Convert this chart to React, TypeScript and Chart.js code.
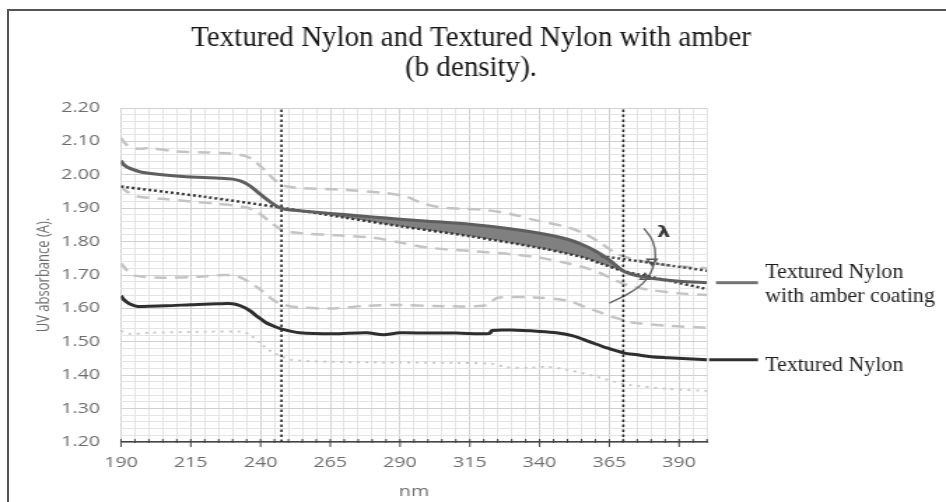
import React, { useEffect, useRef } from 'react';
import { Chart, registerables } from 'chart.js';

Chart.register(...registerables);

// ---------------- data ----------------
const TITLE_LINES = ['Textured Nylon and Textured Nylon with amber', '(b density).'];
const X_TITLE = 'nm';
const Y_TITLE = 'UV absorbance (A).';
const LABEL_AMBER = ['Textured Nylon', 'with amber coating'];
const LABEL_NYLON = ['Textured Nylon'];
const LAMBDA_TEXT = 'λ';

const X_MIN = 190;
const X_MAX = 400;
const Y_MIN = 1.2;
const Y_MAX = 2.2;
const X_MAJOR_TICKS = [190, 215, 240, 265, 290, 315, 340, 365, 390];
const X_MINOR_STEP = 5;
const Y_MAJOR_TICKS = [1.2, 1.3, 1.4, 1.5, 1.6, 1.7, 1.8, 1.9, 2.0, 2.1, 2.2];
const Y_MINOR_STEP = 0.02;

// Textured Nylon with amber coating (mean)
const AMBER_NM = [190, 191, 193, 198, 212, 225, 230, 233, 236, 239, 242, 245, 248, 252, 260, 270, 280, 290, 300, 315, 330, 340, 350, 355, 360, 365, 370, 375, 380, 390, 400];
const AMBER_ABS = [2.042, 2.03, 2.02, 2.007, 1.995, 1.99, 1.987, 1.981, 1.968, 1.948, 1.928, 1.91, 1.898, 1.894, 1.888, 1.881, 1.874, 1.867, 1.861, 1.852, 1.838, 1.825, 1.807, 1.792, 1.772, 1.745, 1.712, 1.698, 1.69, 1.681, 1.677];
// amber upper / lower bands
const AMBER_UP_NM = [190, 192, 196, 200, 210, 220, 230, 235, 238, 242, 245, 248, 255, 270, 285, 292, 298, 305, 320, 330, 338, 350, 357, 362, 368, 375, 385, 400];
const AMBER_UP_ABS = [2.11, 2.09, 2.078, 2.08, 2.07, 2.067, 2.063, 2.055, 2.04, 2.01, 1.985, 1.968, 1.96, 1.955, 1.945, 1.935, 1.915, 1.902, 1.895, 1.882, 1.865, 1.843, 1.82, 1.795, 1.762, 1.745, 1.73, 1.72];
const AMBER_LO_NM = [190, 192, 196, 205, 215, 225, 235, 239, 243, 248, 255, 265, 280, 290, 300, 315, 330, 340, 350, 357, 362, 367, 372, 380, 390, 400];
const AMBER_LO_ABS = [1.965, 1.95, 1.935, 1.928, 1.92, 1.913, 1.902, 1.888, 1.862, 1.834, 1.825, 1.82, 1.812, 1.797, 1.782, 1.772, 1.762, 1.752, 1.735, 1.72, 1.705, 1.685, 1.668, 1.655, 1.645, 1.64];
// dotted trend line under the amber curve
const TREND_NM = [190, 220, 247, 270, 290, 315, 340, 355, 362, 370, 385, 400];
const TREND_ABS = [1.965, 1.934, 1.902, 1.872, 1.846, 1.816, 1.781, 1.754, 1.734, 1.712, 1.685, 1.658];
// dotted tangent line at the right
const TANGENT_NM = [362, 400];
const TANGENT_ABS = [1.757, 1.713];
// shaded region limits
const SHADE_FROM_NM = 247.5;
const SHADE_TO_NM = 370;

// Textured Nylon (mean)
const NYLON_NM = [190, 191, 193, 196, 206, 215, 225, 230, 233, 236, 239, 242, 245, 248, 254, 266, 278, 284, 290, 300, 310, 322, 323, 330, 340, 346, 352, 358, 364, 370, 375, 380, 386, 393, 400];
const NYLON_ABS = [1.638, 1.626, 1.614, 1.606, 1.608, 1.611, 1.614, 1.614, 1.607, 1.594, 1.575, 1.557, 1.546, 1.537, 1.527, 1.524, 1.527, 1.521, 1.527, 1.526, 1.526, 1.525, 1.534, 1.535, 1.531, 1.527, 1.518, 1.5, 1.482, 1.467, 1.461, 1.455, 1.452, 1.449, 1.446];
const NYLON_UP_NM = [190, 192, 195, 205, 218, 228, 233, 239, 243, 247, 254, 266, 278, 290, 302, 320, 323, 325, 338, 350, 356, 362, 368, 374, 386, 400];
const NYLON_UP_ABS = [1.735, 1.715, 1.698, 1.692, 1.695, 1.7, 1.692, 1.662, 1.635, 1.614, 1.603, 1.6, 1.608, 1.61, 1.607, 1.608, 1.622, 1.632, 1.633, 1.623, 1.605, 1.587, 1.57, 1.557, 1.548, 1.542];
const NYLON_LO_NM = [190, 193, 200, 220, 233, 236, 240, 244, 247, 251, 266, 290, 310, 323, 328, 336, 343, 350, 356, 362, 368, 372, 386, 400];
const NYLON_LO_ABS = [1.533, 1.524, 1.527, 1.53, 1.53, 1.522, 1.495, 1.47, 1.458, 1.446, 1.44, 1.438, 1.437, 1.434, 1.424, 1.422, 1.425, 1.416, 1.405, 1.392, 1.378, 1.371, 1.359, 1.353];

// vertical dotted markers
const V_MARKERS_NM = [247.5, 370];

// angle annotation (arc, arrowheads, lambda)
const ARC_NM = [377.4, 380.6, 381.5, 380, 377, 372, 365];
const ARC_ABS = [1.84, 1.8, 1.755, 1.71, 1.675, 1.645, 1.616];
const ARROW_NM = [380.3, 377.8];
const ARROW_ABS = [1.741, 1.693];
const ARROW_ROT = [180, 0];
const LAMBDA_NM = 384.5;
const LAMBDA_ABS = 1.825;

// ---------------- layout ----------------
const PAGE_W = 946;
const PAGE_H = 502;
const CANVAS_W = 676;
const SX = PAGE_W / CANVAS_W;

const pts = (xs: number[], ys: number[]) => xs.map((x, i) => ({ x, y: ys[i] }));

const xTickValues: number[] = [];
for (let v = X_MIN; v <= X_MAX; v += X_MINOR_STEP) xTickValues.push(v);
const yTickValues: number[] = [];
for (let i = 0; i <= Math.round((Y_MAX - Y_MIN) / Y_MINOR_STEP); i++) yTickValues.push(+(Y_MIN + i * Y_MINOR_STEP).toFixed(2));
const isYMajor = (v: number) => Y_MAJOR_TICKS.some((m) => Math.abs(m - v) < 1e-6);

const overlayPlugin = {
  id: 'overlay',
  afterDatasetsDraw(chart: any) {
    const { ctx, scales } = chart;
    const xs = scales.x;
    const ys = scales.y;
    ctx.save();
    ctx.fillStyle = '#3a3a3a';
    ctx.font = 'bold 15px "DejaVu Sans"';
    ctx.textAlign = 'center';
    ctx.textBaseline = 'middle';
    ctx.fillText(LAMBDA_TEXT, xs.getPixelForValue(LAMBDA_NM), ys.getPixelForValue(LAMBDA_ABS));
    ctx.restore();
  },
  afterDraw(chart: any) {
    const { ctx, chartArea, scales } = chart;
    const xs = scales.x;
    const ys = scales.y;
    // x tick marks
    ctx.save();
    ctx.strokeStyle = '#444';
    ctx.lineWidth = 1;
    for (const t of xs.ticks) {
      const px = xs.getPixelForValue(t.value);
      const major = X_MAJOR_TICKS.includes(t.value);
      ctx.beginPath();
      ctx.moveTo(px, chartArea.bottom - 3);
      ctx.lineTo(px, chartArea.bottom + (major ? 5 : 1));
      ctx.stroke();
    }
    ctx.restore();

    // right-side labels with leader lines
    const labels = [
      { lines: LABEL_AMBER, value: AMBER_ABS[AMBER_ABS.length - 1], color: '#737373', start: 9, dy: -10 },
      { lines: LABEL_NYLON, value: NYLON_ABS[NYLON_ABS.length - 1], color: '#303030', start: 2, dy: 5 },
    ];
    for (const lb of labels) {
      const py = ys.getPixelForValue(lb.value);
      ctx.save();
      ctx.strokeStyle = lb.color;
      ctx.lineWidth = 3;
      ctx.beginPath();
      ctx.moveTo(chartArea.right + lb.start / SX, py);
      ctx.lineTo(chartArea.right + 51 / SX, py);
      ctx.stroke();
      ctx.restore();
      ctx.save();
      ctx.scale(1 / SX, 1);
      ctx.fillStyle = '#1e1e1e';
      ctx.font = '22px "Liberation Serif"';
      ctx.textAlign = 'left';
      ctx.textBaseline = 'middle';
      lb.lines.forEach((s, i) => {
        ctx.fillText(s, chartArea.right * SX + 58, py + lb.dy + i * 24);
      });
      ctx.restore();
    }

    // title (drawn unstretched)
    ctx.save();
    ctx.scale(1 / SX, 1);
    ctx.fillStyle = '#161616';
    ctx.font = '29px "Liberation Serif"';
    ctx.textAlign = 'center';
    ctx.textBaseline = 'middle';
    TITLE_LINES.forEach((s, i) => {
      ctx.fillText(s, (chart.width * SX) / 2 - 2, 38 + i * 30);
    });
    ctx.restore();
  },
};

export default function App() {
  const ref = useRef<HTMLCanvasElement | null>(null);

  useEffect(() => {
    if (!ref.current) return;
    const band = (data: any, color: string, dash: number[], width: number) => ({
      data,
      borderColor: color,
      borderWidth: width,
      borderDash: dash,
      pointRadius: 0,
      fill: false,
      tension: 0.3,
    });
    const shadeData = pts(AMBER_NM, AMBER_ABS).filter((p) => p.x >= SHADE_FROM_NM && p.x <= SHADE_TO_NM);

    const datasets: any[] = [
      // 0 amber mean
      { data: pts(AMBER_NM, AMBER_ABS), borderColor: '#5e5e5e', borderWidth: 3, pointRadius: 0, fill: false, tension: 0.3 },
      // 1 trend (dotted)
      { data: pts(TREND_NM, TREND_ABS), borderColor: '#333', borderWidth: 2.5, borderDash: [2, 2], pointRadius: 0, fill: false, tension: 0.3 },
      // 2 tangent (dotted)
      { data: pts(TANGENT_NM, TANGENT_ABS), borderColor: '#444', borderWidth: 2.5, borderDash: [2, 2], pointRadius: 0, fill: false },
      // 3 nylon mean
      { data: pts(NYLON_NM, NYLON_ABS), borderColor: '#2e2e2e', borderWidth: 3, pointRadius: 0, fill: false, tension: 0.3 },
      // 4,5 vertical markers
      ...V_MARKERS_NM.map((v) => ({
        data: [{ x: v, y: Y_MIN }, { x: v, y: Y_MAX }],
        borderColor: '#2a2a2a',
        borderWidth: 1.6,
        borderDash: [2.5, 2.5],
        pointRadius: 0,
        fill: false,
      })),
      // arc
      { data: pts(ARC_NM, ARC_ABS), borderColor: '#666', borderWidth: 1.4, pointRadius: 0, fill: false, tension: 0.45 },
      // arrowheads
      {
        data: pts(ARROW_NM, ARROW_ABS),
        showLine: false,
        pointStyle: 'triangle',
        pointRotation: ARROW_ROT,
        pointRadius: 4,
        pointBorderWidth: 1.4,
        pointBorderColor: '#555',
        pointBackgroundColor: 'rgba(0,0,0,0)',
      },
      // shaded region between amber mean and trend
      { data: shadeData, borderWidth: 0, borderColor: 'rgba(0,0,0,0)', pointRadius: 0, fill: 1, backgroundColor: '#808080', tension: 0.3 },
      // bands
      band(pts(AMBER_UP_NM, AMBER_UP_ABS), '#c4c4c4', [9, 6], 2.5),
      band(pts(AMBER_LO_NM, AMBER_LO_ABS), '#c4c4c4', [9, 6], 2.5),
      band(pts(NYLON_UP_NM, NYLON_UP_ABS), '#c4c4c4', [9, 6], 2.5),
      band(pts(NYLON_LO_NM, NYLON_LO_ABS), '#c8c8c8', [2, 4], 2),
    ];

    const chart = new Chart(ref.current, {
      type: 'line',
      data: { datasets },
      options: {
        animation: false,
        responsive: false,
        devicePixelRatio: 1,
        layout: { padding: { top: 108, right: CANVAS_W - 707 / SX, bottom: 0, left: 0 } },
        plugins: {
          legend: { display: false },
          tooltip: { enabled: false },
          title: { display: false },
        },
        elements: { line: { borderCapStyle: 'butt' } },
        scales: {
          x: {
            type: 'linear',
            min: X_MIN,
            max: X_MAX,
            afterBuildTicks: (scale: any) => {
              scale.ticks = xTickValues.map((value) => ({ value }));
            },
            afterFit: (scale: any) => {
              scale.height = PAGE_H - 442;
            },
            ticks: {
              autoSkip: false,
              maxRotation: 0,
              padding: 13,
              color: '#6c6c6c',
              font: { family: '"Open Sans"', size: 14 },
              callback: (v: any) => (X_MAJOR_TICKS.includes(v) ? String(v) : ''),
            },
            grid: {
              drawTicks: false,
              color: (c: any) => (X_MAJOR_TICKS.includes(c.tick?.value) ? '#d0d0d0' : '#e4e4e4'),
              lineWidth: 1,
            },
            border: { display: true, color: '#444', width: 1.5 },
            title: {
              display: true,
              text: X_TITLE,
              color: '#6c6c6c',
              font: { family: '"Open Sans"', size: 14 },
              padding: { top: 0, bottom: 2 },
            },
          },
          y: {
            type: 'linear',
            min: Y_MIN,
            max: Y_MAX,
            afterBuildTicks: (scale: any) => {
              scale.ticks = yTickValues.map((value) => ({ value }));
            },
            afterFit: (scale: any) => {
              scale.width = 121 / SX;
            },
            ticks: {
              autoSkip: false,
              padding: 15,
              color: '#6c6c6c',
              font: { family: '"Open Sans"', size: 14 },
              callback: (v: any) => (isYMajor(v) ? Number(v).toFixed(2) : ''),
            },
            grid: {
              drawTicks: false,
              color: (c: any) => (isYMajor(c.tick?.value) ? '#d0d0d0' : '#e4e4e4'),
              lineWidth: 1,
            },
            border: { display: false },
            title: {
              display: true,
              text: Y_TITLE,
              color: '#6c6c6c',
              font: { family: '"Open Sans"', size: 13 },
              padding: { top: 23, bottom: 0 },
            },
          },
        },
      },
      plugins: [overlayPlugin],
    } as any);

    return () => chart.destroy();
  }, []);

  return (
    <div
      style={{
        position: 'fixed',
        left: 0,
        top: 0,
        width: PAGE_W,
        height: PAGE_H,
        overflow: 'hidden',
        background: '#fff',
      }}
    >
      <canvas
        ref={ref}
        width={CANVAS_W}
        height={PAGE_H}
        style={{ width: PAGE_W + 'px', height: PAGE_H + 'px', display: 'block' }}
      />
      <div
        style={{
          position: 'absolute',
          left: 7,
          top: 9,
          width: 980,
          height: 540,
          borderTop: '2px solid #555',
          borderLeft: '2px solid #555',
          pointerEvents: 'none',
        }}
      />
    </div>
  );
}
